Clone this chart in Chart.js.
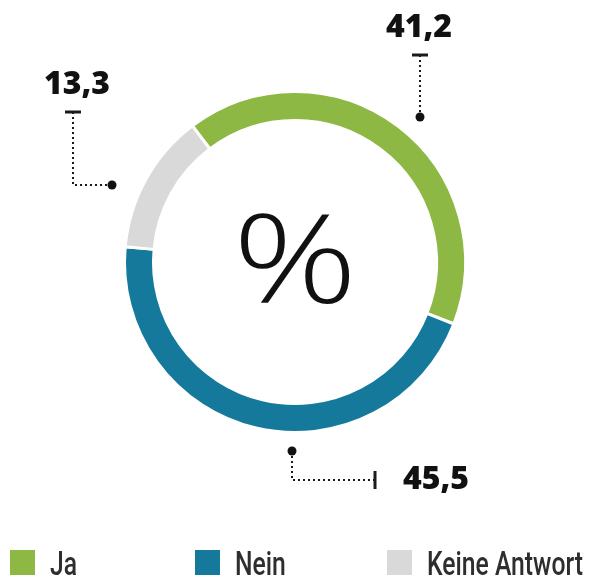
<!DOCTYPE html>
<html>
<head>
<meta charset="utf-8">
<script src="https://cdn.jsdelivr.net/npm/chart.js@4"></script>
<style>
  html, body { margin: 0; padding: 0; background: #fff; }
  #wrap { position: relative; width: 590px; height: 577px; }
</style>
</head>
<body>
<div id="wrap">
  <canvas id="pollChart" width="590" height="577"></canvas>
</div>
<script>
// Umfrage-Ergebnis in Prozent
const categories = ['Ja', 'Nein', 'Keine Antwort'];
const values = [41.2, 45.5, 13.3];
const valueLabels = ['41,2', '45,5', '13,3'];
const colors = ['#8db843', '#14799b', '#d9d9d9'];

// callout layout (offsets from the ring centre, px)
const callouts = [
    { dot: [125, -145], path: [[125, -207]], tick: 'h', text: [124, -234] },
    { dot: [-3, 189], path: [[-3, 218], [80, 218]], tick: 'v', text: [141, 218] },
    { dot: [-183, -77], path: [[-222, -77], [-222, -150]], tick: 'h', text: [-218, -177] }
];
const legendX = [10, 195, 387];
const legendY = 550;
const legendTextWidth = 156; // width of the longest label

const calloutPlugin = {
    id: 'callouts',
    afterDraw(chart) {
        const ctx = chart.ctx;
        const arc = chart.getDatasetMeta(0).data[0];
        const cx = arc.x, cy = arc.y;
        ctx.save();
        callouts.forEach(function(c, i) {
            // dotted leader
            ctx.strokeStyle = '#1a1a1a';
            ctx.lineWidth = 2;
            ctx.setLineDash([2, 3]);
            ctx.beginPath();
            ctx.moveTo(cx + c.dot[0], cy + c.dot[1]);
            c.path.forEach(function(p) { ctx.lineTo(cx + p[0], cy + p[1]); });
            ctx.stroke();
            ctx.setLineDash([]);
            // end tick
            const end = c.path[c.path.length - 1];
            ctx.lineWidth = 3;
            ctx.beginPath();
            if (c.tick === 'h') {
                ctx.moveTo(cx + end[0] - 8, cy + end[1]);
                ctx.lineTo(cx + end[0] + 8, cy + end[1]);
            } else {
                ctx.moveTo(cx + end[0], cy + end[1] - 9);
                ctx.lineTo(cx + end[0], cy + end[1] + 9);
            }
            ctx.stroke();
            // dot
            ctx.fillStyle = '#111';
            ctx.beginPath();
            ctx.arc(cx + c.dot[0], cy + c.dot[1], 4.5, 0, Math.PI * 2);
            ctx.fill();
            // value
            ctx.font = '800 32px "Open Sans", "DejaVu Sans", sans-serif';
            ctx.textAlign = 'center';
            ctx.textBaseline = 'middle';
            ctx.fillText(valueLabels[i], cx + c.text[0], cy + c.text[1]);
        });

        // legend (condensed labels)
        ctx.font = '500 34px Roboto, "Liberation Sans", sans-serif';
        const longest = Math.max.apply(null, chart.data.labels.map(function(l) { return ctx.measureText(l).width; }));
        const sx = legendTextWidth / longest;
        chart.data.labels.forEach(function(name, i) {
            const x = legendX[i];
            ctx.fillStyle = chart.data.datasets[0].backgroundColor[i];
            ctx.fillRect(x, legendY, 25, 25);
            ctx.save();
            ctx.translate(x + 40, legendY + 25);
            ctx.scale(sx, 1);
            ctx.textAlign = 'left';
            ctx.textBaseline = 'alphabetic';
            ctx.fillStyle = '#2e2e2e';
            ctx.fillText(name, 0, 0);
            ctx.restore();
        });

        // centre sign
        ctx.translate(cx, cy);
        ctx.scale(1.25, 1);
        ctx.font = '300 124px "Open Sans", "Liberation Sans", sans-serif';
        ctx.textAlign = 'center';
        ctx.textBaseline = 'middle';
        ctx.fillStyle = '#111';
        ctx.fillText('%', 0, 6);
        ctx.restore();
    }
};

const ctx = document.getElementById('pollChart').getContext('2d');
new Chart(ctx, {
    type: 'doughnut',
    data: {
        labels: categories,
        datasets: [{
            data: values,
            backgroundColor: colors,
            borderColor: '#ffffff',
            borderWidth: 3
        }]
    },
    options: {
        responsive: false,
        animation: false,
        rotation: -37,
        cutout: '83%',
        layout: { padding: { left: 123, right: 123, top: 90, bottom: 143 } },
        plugins: {
            legend: { display: false },
            tooltip: { enabled: false }
        }
    },
    plugins: [calloutPlugin]
});
</script>
</body>
</html>
